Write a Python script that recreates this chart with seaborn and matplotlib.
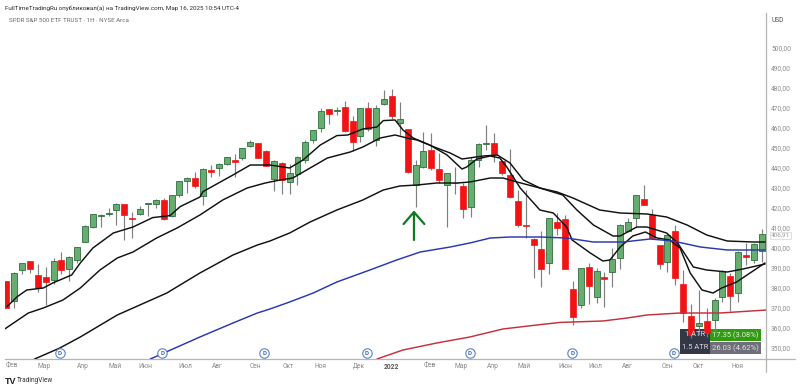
import numpy as np
import pandas as pd
import matplotlib
matplotlib.use("Agg")
import matplotlib.pyplot as plt
from matplotlib.patches import Rectangle
import seaborn as sns

opens = [383.5,373.5,389,393.7,386.7,385.3,384,393.8,389.5,394,403.2,410.3,416.2,417.2,419,422,415,417,422.2,422.2,
         424,416.2,426.7,433.5,435.2,426.2,439,440.2,442,444,444.8,450.8,452.3,448.5,434.3,442.3,432.8,436.8,443.8,454.2,
         459.8,469.5,468.7,470.5,463.7,456,469.8,454,471.8,476,462.3,459.3,431.5,440.7,449,439.5,431.5,432.5,431.2,420.7,
         444,452.1,452.7,443.7,436.3,423.3,411.3,404.5,399.3,392.3,413.2,414.3,379.3,371.5,390.7,375.7,385.3,388.2,395.2,408.7,
         414.8,424.3,416.5,401.5,392.8,408.5,381.8,366,361,363.5,364,375.7,386.2,377.3,396.5,394,398.7]
closes = [370,387.3,392.3,389.5,380.2,383.2,393.7,389,395.7,400.3,411.2,416.8,416.5,417.5,421.8,416.3,414.3,419.5,422.4,423.8,
          414.5,426.3,433.5,435.2,431,439.7,438.2,442.2,445.3,443.2,449.8,452.8,445.2,441.2,443.5,434,437.3,445.5,452.8,458.8,
          468.3,467,468.9,458.7,453.2,470.2,459.3,470.2,474.5,466,464.3,437.8,441.5,448.3,440.2,434,437.3,432.3,419.7,444,
          452.2,452.5,447,437.3,425.7,411.5,411,401.5,389.3,414.8,410.2,389.3,365.5,389.8,381,388.3,384.5,394.7,411.5,413.2,
          426.7,421.7,405.2,391.8,406.5,385.2,367.3,356.5,362.3,357.5,374,388.7,376,398,395.7,402,406.9]
highs = [383.5,388,392.7,393.7,392,390.5,395.2,397.8,396.2,400.3,411.5,417.2,417,419.8,422.3,422,417.8,421,422.5,424.5,
         425.2,426.3,433.7,435.7,438,440.2,441.5,442.7,445.7,447,450.2,454,452.5,448.8,444.2,442.8,441.8,445.8,454,458.8,
         469.8,469.5,470.7,473.5,466.2,470.2,472.8,471.5,479,479.5,472.8,459.5,444,457.8,457.3,447.3,437.5,440.7,432.3,445.3,
         452.5,461.5,457.3,443.7,449.5,429,429,404.8,408.5,414.8,417.3,416.5,383.5,389.8,392.7,390.2,388,399.8,411.8,415.2,
         426.7,431.5,419.3,401.5,407,411.5,389,372,379,370,374.8,389,387.3,398.7,402.3,402.7,409.3]
lows = [370,370,387,387.3,378.2,371.5,381.8,386.8,383.7,392.7,403,410,410.3,416.2,411.5,404,405,416.5,416.2,419.8,
        414,415.5,425.7,427.3,430,421.5,435.3,436,441.5,435.7,444,450.3,445,441,428.5,426.8,426.8,431.5,442.3,452.3,
        458.2,461.8,466.5,458.2,448.7,453.2,458.5,451.2,471.5,464.3,456.5,437.5,420.7,439.8,439,432.3,410.7,427,414.8,415.7,
        440.7,449,443.2,436.7,425,410.7,404.8,385,380.3,386.8,406.5,389.3,361.5,369.8,372,372.7,370.7,380.3,389.3,408.2,
        410.3,421.3,404.8,389.5,388.2,381.5,362.8,355,356.5,355.7,357.5,372.8,368.5,373.2,391.5,392.3,393.2]

fast_t = [0.1,1.4,2.6,4.7,5.9,8.3,9.4,11,13.6,16.1,18.6,20.8,22.1,24.6,25,28.8,31,33.5,36,37.7,39.9,42,43.4,45.3,47.1,47.9,49.4,50.4,51.7,53.8,56,57.9,58.5,59.8,61.5,62.7,63.6,65.3,67.8,69.5,71.2,71.9,74.2,75.8,76.7,78,79.6,81.2,82.7,84.3,85.6,86.9,88.4,89.8,90.9,92.8,94.5,96.4]
fast_v = [370.7,375.7,379,380,382.5,386.5,392.5,400,407.5,410.5,415.2,416.2,420.7,425.5,428.2,436.5,441.5,441.5,440,444,451.5,456.2,456.5,459.5,460.5,463.7,464,459,455,451.5,446.5,439.5,440.5,444.5,446,445,440.5,430,419,417.5,410.5,404,397.5,393.5,394,400.5,406,408,405,404,400,387.5,379,377.5,380,383,387.5,392.5]
mid_t = [-0.2,2.8,4.7,7.2,9.4,11.9,14.1,16.1,19.1,21.7,24.6,27.5,30.6,32.9,34.8,36.4,38.6,40.8,43.7,45.3,47.5,49.4,50.9,52.2,54.7,56.4,57.9,60.6,62.4,64,65.7,67.8,70.7,72.5,74.6,77.1,78,80.1,81.4,83.9,85.3,87.3,89,91.6,93.6,96.4]
mid_v = [359.5,367.5,370,374,380,389,395,398,405,410,416.5,424,430,432.5,434,435,440,445,448,450.5,455,456.5,455,454,450,447.5,444.5,446,446.5,442.5,434,430,426.5,419,411.5,406,406,410.5,410.5,407.5,402.5,390.5,389,388,389.5,392]
slow_t = [3.6,6.8,9.4,14.1,20.4,24.6,28.8,31.9,33.5,36,38.6,42,45.3,47.9,50,52.2,54.7,57.3,58.9,61.5,63.1,64.9,67.8,70,72,75.4,78,81.4,83.9,86.5,89,91.6,94.9,96.4]
slow_v = [344.5,350,355.5,366.5,377.5,387.5,396.5,401.5,403.5,407.5,413,419,424,429,431,431.5,432.5,432.5,433,435,435,433,430,428,425,419,417.5,417,415.5,411.5,406.5,403.5,403,403]
blue_t = [18.3,24.6,28.8,31.9,33.5,36,39,42,46.2,49.6,52.6,56.4,58.9,61.5,64,67.8,71.2,74.6,78.4,81.8,84.7,88.2,91.6,96.4]
blue_v = [344.5,355.5,362.5,367.5,369.5,373,377.5,383,389,394,398,400.5,402.5,405,405.5,405.5,405,403,403,404.5,403.5,400.5,399,399]
red_t = [47.1,50.4,54.7,58.9,63.1,67.4,70.4,75.8,78.9,81.4,85.6,90.7,96.6]
red_v = [344.5,349,352.5,355.5,359.5,361.5,362.8,363.5,365,366.5,367.5,367.5,369]

month_pos = [0.7,4.8,9.7,13.8,17.7,22.8,26.8,31.7,35.8,39.9,44.8,48.9,53.8,57.8,61.8,65.8,71,74.9,78.9,84,87.9,92.9]
month_lab = ["Фев","Мар","Апр","Май","Июн","Июл","Авг","Сен","Окт","Ноя","Дек","2022","Фев","Мар","Апр","Май","Июн","Июл","Авг","Сен","Окт","Ноя"]
price_ticks = [350,360,370,380,390,400,410,420,430,440,450,460,470,480,490,500]
dividend_pos = [6.76,19.8,32.8,45.8,58.9,71.9,84.8]
last_price = 406.91

sns.set_theme(style="white")
plt.rcParams["font.family"] = ["Roboto", "DejaVu Sans"]

fig = plt.figure(figsize=(8, 3.9), dpi=100, facecolor="white")
ax = fig.add_axes([5/800, 1-359/390, 761/800, 346/390])
ax.set_xlim(-0.165, 96.53)
ax.set_ylim(344.5, 517.5)
ax.set_facecolor("white")

GREEN, GREEN_E, RED = "#68ad70", "#2f6f40", "#f21414"
df = pd.DataFrame({"t": np.arange(len(opens)), "o": opens, "c": closes, "h": highs, "l": lows})
up = df["c"] >= df["o"]

ax.vlines(df["t"], df["l"], df["h"], color="#808080", lw=0.85, zorder=3)
bw = 0.76
ax.bar(df["t"][up], (df["c"]-df["o"])[up], bottom=df["o"][up], width=bw, color=GREEN, edgecolor=GREEN_E, lw=0.6, zorder=4)
ax.bar(df["t"][~up], (df["o"]-df["c"])[~up], bottom=df["c"][~up], width=bw, color=RED, edgecolor=RED, lw=0.5, zorder=4)

for ts, vs, col in [(fast_t, fast_v, "#111111"), (mid_t, mid_v, "#111111"), (slow_t, slow_v, "#111111"),
                    (blue_t, blue_v, "#2b37ae"), (red_t, red_v, "#c5303a")]:
    sns.lineplot(x=ts, y=vs, ax=ax, color=col, lw=1.05, estimator=None, sort=False, zorder=5, legend=False,
                 solid_joinstyle="round")

ax.annotate("", xy=(51.8, 418.8), xytext=(51.8, 404), zorder=7,
            arrowprops=dict(arrowstyle="->,head_length=0.86,head_width=0.75", color="#0f7a1e", lw=1.6,
                            shrinkA=0, shrinkB=0, mutation_scale=10))

ax.scatter(dividend_pos, [347.5]*len(dividend_pos), s=46, facecolor="white", edgecolor="#5b83c9", lw=0.8, zorder=6, clip_on=False)
for p in dividend_pos:
    ax.text(p, 347.4, "D", color="#3f69b8", fontsize=4.6, fontweight="bold", ha="center", va="center", zorder=7)

# ATR panel
ax.add_patch(Rectangle((85.6, 347.0), 3.8, 12.5, color="#343746", lw=0, zorder=2))
ax.add_patch(Rectangle((89.4, 353.5), 6.5, 6.0, color="#2f9a12", lw=0, zorder=2))
ax.add_patch(Rectangle((89.4, 347.0), 6.5, 6.0, color="#6e6f79", lw=0, zorder=2))
ax.text(87.5, 356.5, "1 ATR", color="#d8d8dc", fontsize=5.4, ha="center", va="center", zorder=8)
ax.text(87.5, 350.0, "1.5 ATR", color="#d8d8dc", fontsize=5.4, ha="center", va="center", zorder=8)
ax.text(92.65, 356.5, "17.35 (3.08%)", color="#e4f2dc", fontsize=5.5, ha="center", va="center", zorder=8)
ax.text(92.65, 350.0, "26.03 (4.62%)", color="#e2e2e6", fontsize=5.5, ha="center", va="center", zorder=8)

ax.yaxis.tick_right()
ax.set_yticks(price_ticks)
ax.set_yticklabels([f"{v},00" for v in price_ticks])
ax.set_xticks(month_pos)
ax.set_xticklabels(month_lab)
ax.tick_params(axis="y", length=0, pad=3.6, labelsize=4.8, labelcolor="#8a8a8a")
ax.tick_params(axis="x", length=0, pad=2.8, labelsize=4.8, labelcolor="#8a8a8a")
for lab in ax.get_xticklabels():
    if lab.get_text() == "2022":
        lab.set_fontweight("bold")
        lab.set_color("#555555")
for side in ("top", "left"):
    ax.spines[side].set_visible(False)
ax.spines["bottom"].set_color("#b5b5b5")
ax.spines["right"].set_color("#b5b5b5")
ax.spines["bottom"].set_linewidth(0.9)
ax.spines["right"].set_linewidth(0.9)

fig.add_artist(plt.Line2D([766/800, 766/800], [1-372/390, 1-359/390], color="#b5b5b5", lw=0.9))
fig.add_artist(plt.Line2D([766/800, 795/800], [1-359/390, 1-359/390], color="#b5b5b5", lw=0.9))

ax.text(96.53 + 5/7.87, last_price - 0.7, f"{last_price:.2f}".replace(".", ","), fontsize=4.6,
        color="#9a9a9a", ha="left", va="center", zorder=9, clip_on=False,
        bbox=dict(boxstyle="square,pad=0.1", fc="white", ec="#d4d4d4", lw=0.5))

fig.text(5/800, 1-8/390, "FullTimeTradingRu опубликовал(а) на TradingView.com, Мар 16, 2025 10:54 UTC-4",
         fontsize=4.5, color="#2a2a2a", ha="left", va="center")
fig.text(9/800, 1-20.5/390, "SPDR S&P 500 ETF TRUST · 1H · NYSE Arca", fontsize=4.5, color="#6a6a6a", ha="left", va="center")
fig.text(772/800, 1-21/390, "USD", fontsize=4.8, color="#555555", ha="left", va="center")
fig.text(5/800, 1-381/390, "TV", fontsize=6.5, color="#1c1c1c", fontweight="bold", ha="left", va="center", family="Liberation Sans")
fig.text(16.5/800, 1-381/390, "TradingView", fontsize=4.7, color="#333333", ha="left", va="center")

fig.savefig("out.png", dpi=100, facecolor="white")
